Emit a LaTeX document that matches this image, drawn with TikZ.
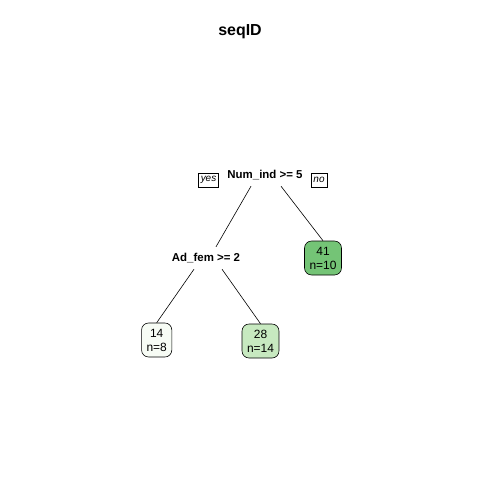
\documentclass[tikz,border=0pt]{standalone}
\usepackage{fontspec}
\setmainfont{Liberation Sans}
\definecolor{leafpale}{HTML}{F7FCF5}
\definecolor{leaflight}{HTML}{C7E9C0}
\definecolor{leafdark}{HTML}{74C476}
\begin{document}
\begin{tikzpicture}[x=1bp,y=-1bp,
  split/.style={font=\bfseries\fontsize{11.5}{13}\selectfont, inner sep=0pt, minimum height=22bp},
  leaf/.style={draw, rounded corners=7bp, line width=0.6bp, align=center,
    font=\fontsize{12}{14}\selectfont, inner xsep=5bp, inner ysep=0pt, minimum height=34bp},
  tag/.style={draw, line width=0.6bp, font=\itshape\fontsize{10}{12}\selectfont,
    inner xsep=2.5bp, inner ysep=0pt, minimum height=14bp}]
  \useasboundingbox (0,0) rectangle (480,480);
  \path (240,32)  node[font=\bfseries\fontsize{16}{18}\selectfont] (title) {seqID}
        (265,175) node[split] (num) {Num\_ind >= 5}
        (206,258) node[split] (ad)  {Ad\_fem >= 2}
        (208.5,180) node[tag] (yes) {yes}
        (319,180) node[tag] (no)  {no}
        (323,258) node[leaf, fill=leafdark]  (n41) {41\\n=10}
        (156.7,340) node[leaf, fill=leafpale]  (n14) {14\\n=8}
        (260.5,341) node[leaf, fill=leaflight] (n28) {28\\n=14};
  \draw[line width=0.6bp] ([xshift=-14bp]num.south) -- ([xshift=10bp]ad.north);
  \draw[line width=0.6bp] ([xshift=16bp]num.south) -- (n41.north);
  \draw[line width=0.6bp] ([xshift=-12bp]ad.south) -- (n14.north);
  \draw[line width=0.6bp] ([xshift=16bp]ad.south) -- (n28.north);
\end{tikzpicture}
\end{document}
